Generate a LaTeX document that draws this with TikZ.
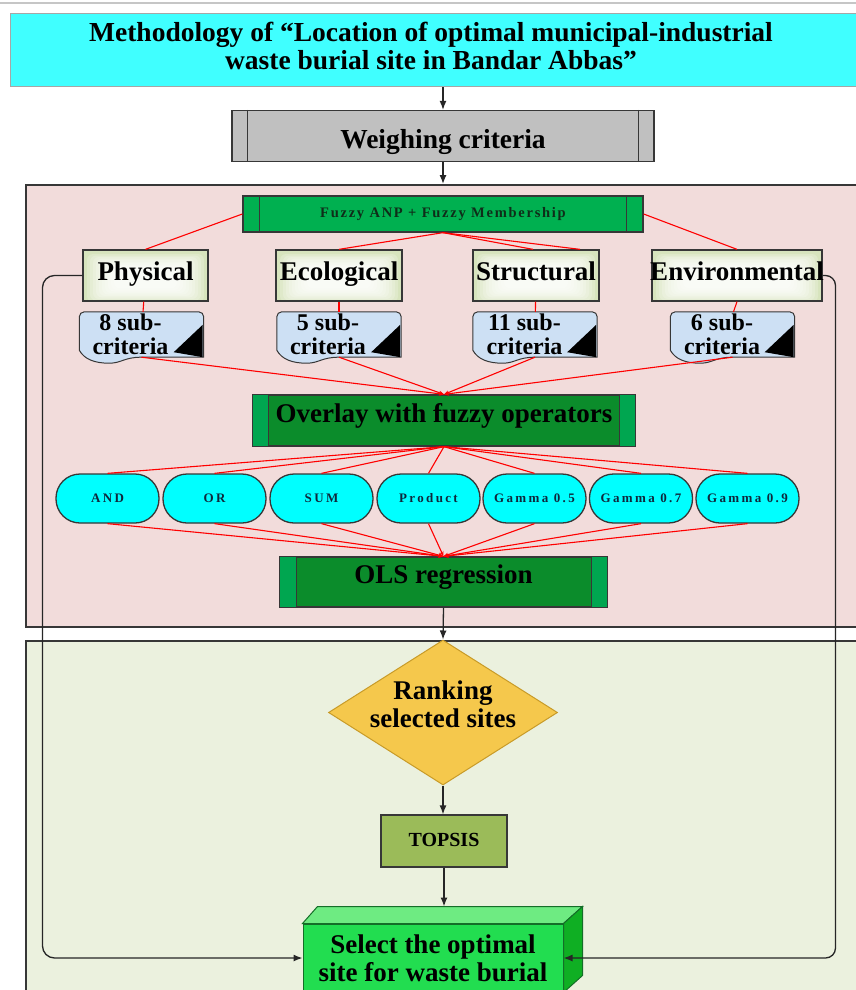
\documentclass[tikz,border=0pt]{standalone}
\usepackage{fontspec}
\setmainfont{Liberation Serif}
\newfontfamily\anpfont[LetterSpace=12]{Liberation Serif}
\newfontfamily\ovalfont[LetterSpace=18]{Liberation Serif}
\usetikzlibrary{shapes.geometric,arrows.meta,calc}
\definecolor{titlecyan}{RGB}{64,255,255}
\definecolor{weighgray}{RGB}{192,192,192}
\definecolor{pinkbg}{RGB}{242,220,219}
\definecolor{greenbg}{RGB}{235,241,222}
\definecolor{anpgreen}{RGB}{0,176,80}
\definecolor{anptext}{RGB}{15,45,25}
\definecolor{critgreen}{RGB}{215,228,189}
\definecolor{subblue}{RGB}{205,224,244}
\definecolor{opgreen}{RGB}{11,140,43}
\definecolor{bargreen}{RGB}{0,166,80}
\definecolor{ovalcyan}{RGB}{0,255,255}
\definecolor{ovaltext}{RGB}{15,40,60}
\definecolor{gold}{RGB}{245,200,76}
\definecolor{golddark}{RGB}{200,155,40}
\definecolor{topsisgreen}{RGB}{155,187,89}
\definecolor{selgreen}{RGB}{34,221,80}
\definecolor{seledge}{RGB}{20,110,40}
\definecolor{seltopc}{RGB}{110,235,130}
\definecolor{selsidec}{RGB}{15,175,35}
\definecolor{edgec}{RGB}{55,55,55}
\tikzset{
 edgeline/.style={draw=edgec, line width=1.3pt},
 titlebox/.style={draw=gray!70, line width=1.2pt, fill=titlecyan, inner sep=0pt, anchor=north west},
 weighbox/.style={edgeline, fill=weighgray, inner sep=0pt, minimum width=422pt, minimum height=51pt,
   font=\bfseries\fontsize{27.5}{28}\selectfont, text height=25pt, text depth=0.4pt},
 region/.style={draw=edgec, line width=1.6pt, inner sep=0pt, anchor=north west},
 anpbox/.style={edgeline, fill=anpgreen, minimum width=400pt, minimum height=36pt, inner sep=0pt,
   font=\anpfont\bfseries\fontsize{14.5}{16}\selectfont, text=anptext},
 critbox/.style={edgeline, fill=critgreen, minimum height=51pt, inner sep=0pt,
   font=\bfseries\fontsize{27}{28}\selectfont, text height=18pt, text depth=8pt,
   path picture={
     \foreach \dx/\dy in {4/2, 7/3.5, 10/5, 13/6.5, 16/8, 19/9.5, 22/11, 25/12.5, 28/14, 31/15.5}{
       \fill[white, opacity=0.2, rounded corners=6pt]
         ($(path picture bounding box.north west)+(\dx,\dy+2)$) rectangle
         ($(path picture bounding box.south east)+(-\dx,-\dy+3)$);
     }
   }},
 subbox/.style={minimum width=124pt, minimum height=45pt, inner sep=0pt},
 subshape/.style={fill=subblue, draw=edgec, line width=1pt},
 subtxt/.style={font=\bfseries\fontsize{24}{24}\selectfont, align=center, inner sep=0pt},
 opbox/.style={edgeline, fill=opgreen, minimum height=51pt, inner sep=0pt,
   font=\bfseries\fontsize{27}{28}\selectfont},
 barfill/.style={fill=bargreen, draw=edgec, line width=1.3pt},
 ovalbox/.style={edgeline, fill=ovalcyan, rounded corners=24pt, minimum width=103pt, minimum height=49pt,
   inner sep=0pt, font=\ovalfont\bfseries\fontsize{13}{14}\selectfont, text=ovaltext},
 decbox/.style={diamond, draw=golddark, line width=1pt, fill=gold, minimum width=229pt,
   minimum height=145pt, inner sep=0pt},
 bigtxt/.style={font=\bfseries\fontsize{27}{28}\selectfont, align=center, inner sep=0pt},
 topbox/.style={edgeline, fill=topsisgreen, minimum width=126pt, minimum height=52pt, inner sep=0pt,
   font=\bfseries\fontsize{20}{22}\selectfont, text height=14pt, text depth=2.6pt},
 selbox/.style={draw=seledge, line width=1pt, fill=selgreen, minimum width=260pt, minimum height=68pt,
   inner sep=0pt, align=center, font=\bfseries\fontsize{27}{28}\selectfont},
 redln/.style={draw=red, line width=1.1pt},
 redarr/.style={redln, -{Stealth[length=5pt,width=4pt]}},
 blkarr/.style={draw=black!85, line width=1.3pt, -{Latex[length=9pt,width=7pt]}}
}
\newcommand\subdoc[1]{%
  \filldraw[subshape] ($(#1.south west)+(0,-7)$) [rounded corners=5pt] -- (#1.north west)
    -- (#1.north east) [sharp corners] -- (#1.south east) -- ($(#1.south west)+(62,0)$)
    .. controls ($(#1.south west)+(45,0)$) and ($(#1.south west)+(42,6)$) .. ($(#1.south west)+(30,6)$)
    .. controls ($(#1.south west)+(15,6)$) and ($(#1.south west)+(5,2)$) .. ($(#1.south west)+(0,-7)$) -- cycle;
  \fill[black] ($(#1.north east)+(-1,13)$) -- ($(#1.south east)+(-1,0)$) -- ($(#1.south east)+(-30,-5)$) -- cycle;
}
\begin{document}
\begin{tikzpicture}[x=1pt,y=-1pt]
\useasboundingbox (0,0) rectangle (856,990);
\clip (0,0) rectangle (856,990);
\fill[white] (0,0) rectangle (856,990);
\draw[gray!45, line width=1.5pt] (0,3) -- (856,3);

% regions
\node[region, fill=pinkbg, minimum width=880pt, minimum height=442pt] (pinkreg) at (25,184) {};
\node[region, fill=greenbg, minimum width=880pt, minimum height=400pt] (greenreg) at (25,640) {};

% title
\node[titlebox, minimum width=890pt, minimum height=73pt] (title) at (10,13) {};
\node[bigtxt, font=\bfseries\fontsize{27.5}{28.3}\selectfont] (titletext) at (431,46.3)
  {Methodology of “Location of optimal municipal-industrial\\waste burial site in Bandar Abbas”};

% weighing
\node[weighbox] (weigh) at (443,136) {Weighing criteria};
\draw[edgeline] ($(weigh.north west)+(16,0)$) -- ($(weigh.south west)+(16,0)$);
\draw[edgeline] ($(weigh.north east)+(-16,0)$) -- ($(weigh.south east)+(-16,0)$);
\draw[blkarr] (title.south -| weigh.north) -- (weigh.north);
\draw[blkarr] (weigh.south) -- (weigh.south |- pinkreg.north);

% fuzzy ANP
\node[anpbox] (anp) at (443,214) {Fuzzy ANP + Fuzzy Membership};
\draw[edgeline] ($(anp.north west)+(17,0)$) -- ($(anp.south west)+(17,0)$);
\draw[edgeline] ($(anp.north east)+(-17,0)$) -- ($(anp.south east)+(-17,0)$);

% criteria
\node[critbox, minimum width=125pt] (c1) at (145.5,275.5) {Physical};
\node[critbox, minimum width=126pt] (c2) at (339,275.5) {Ecological};
\node[critbox, minimum width=126pt] (c3) at (536,275.5) {Structural};
\node[critbox, minimum width=170pt] (c4) at (737,275.5) {\makebox[0pt]{Environmental}};

\draw[redln] (anp.west) -- (c1.north);
\draw[redln] (anp.south) -- (c2.north);
\draw[redln] (anp.south) -- ($(c3.north)+(-3,0)$);
\draw[redln] (anp.south) -- ($(c3.north)+(44,0)$);
\draw[redln] (anp.east) -- (c4.north);

% sub-criteria
\node[subbox] (s1) at (141.5,334.5) {};
\node[subbox] (s2) at (339,334.5) {};
\node[subbox] (s3) at (535,334.5) {};
\node[subbox] (s4) at (732.5,334.5) {};
\subdoc{s1}\subdoc{s2}\subdoc{s3}\subdoc{s4}
\node[subtxt] (s1t) at (130.5,333.8) {8 sub-\\criteria};
\node[subtxt] (s2t) at (328,333.8) {5 sub-\\criteria};
\node[subtxt] (s3t) at (524.5,333.8) {11 sub-\\criteria};
\node[subtxt] (s4t) at (722,333.8) {6 sub-\\criteria};

\draw[redln] (c1) -- (s1);
\draw[redln] (c2) -- (s2);
\draw[redln] (c3) -- (s3);
\draw[redln] (c4.south) -- ($(s4.north)+(1,0)$);

% overlay
\node[opbox, minimum width=382pt, text height=18pt, text depth=13.6pt] (ov) at (444,420.5) {Overlay with fuzzy operators};
\filldraw[barfill] (ov.north west) rectangle ($(ov.south west)+(16,0)$);
\filldraw[barfill] ($(ov.north east)+(-16,0)$) rectangle (ov.south east);
\foreach \s in {s1,s2,s3,s4}{ \draw[redarr] (\s.south) -- (ov.north); }

% operators
\node[ovalbox] (o1) at (107.5,498.5) {AND};
\node[ovalbox] (o2) at (214.5,498.5) {OR};
\node[ovalbox] (o3) at (321.5,498.5) {SUM};
\node[ovalbox] (o4) at (428.5,498.5) {Product};
\node[ovalbox] (o5) at (534.5,498.5) {Gamma 0.5};
\node[ovalbox] (o6) at (641,498.5) {Gamma 0.7};
\node[ovalbox] (o7) at (747.5,498.5) {Gamma 0.9};

% OLS
\node[opbox, minimum width=327pt, minimum height=50pt, text height=18pt, text depth=15.4pt] (ols) at (443.5,582) {OLS regression};
\filldraw[barfill] (ols.north west) rectangle ($(ols.south west)+(17,0)$);
\filldraw[barfill] ($(ols.north east)+(-16,0)$) rectangle (ols.south east);

\foreach \o in {o1,o2,o3,o4,o5,o6,o7}{
  \draw[redln] (ov.south) -- (\o.north);
  \draw[redarr] (\o.south) -- (ols.north);
}

% ranking
\node[decbox] (rank) at (443,712.5) {};
\node[bigtxt] (ranktxt) at (443,704.7) {Ranking\\selected sites};
\draw[blkarr] (ols.south) -- (rank.north);

% TOPSIS
\node[topbox] (tops) at (444,841) {TOPSIS};
\draw[blkarr] (rank.south) -- (rank.south |- tops.north);

% select
\node[selbox] (sel) at (433,958) {Select the optimal\\site for waste burial};
\filldraw[fill=seltopc, draw=seledge, line width=1pt] (sel.north west) -- ($(sel.north west)+(15,-17)$)
  -- ($(sel.north east)+(19,-17)$) -- (sel.north east) -- cycle;
\filldraw[fill=selsidec, draw=seledge, line width=1pt] (sel.north east) -- ($(sel.north east)+(19,-17)$)
  -- ($(sel.south east)+(19,-17)$) -- (sel.south east) -- cycle;
\coordinate (seltop) at ($(sel.north)+(10,-17)$);
\draw[blkarr] (tops.south) -- (tops.south |- seltop);

% side connectors
\draw[blkarr, rounded corners=12pt] (c1.west) -| ($(sel.west)+(-260,0)$) -- (sel.west);
\draw[blkarr, rounded corners=10pt] (c4.east) -| ($(sel.east)+(272,0)$) -- (sel.east);
\end{tikzpicture}
\end{document}
